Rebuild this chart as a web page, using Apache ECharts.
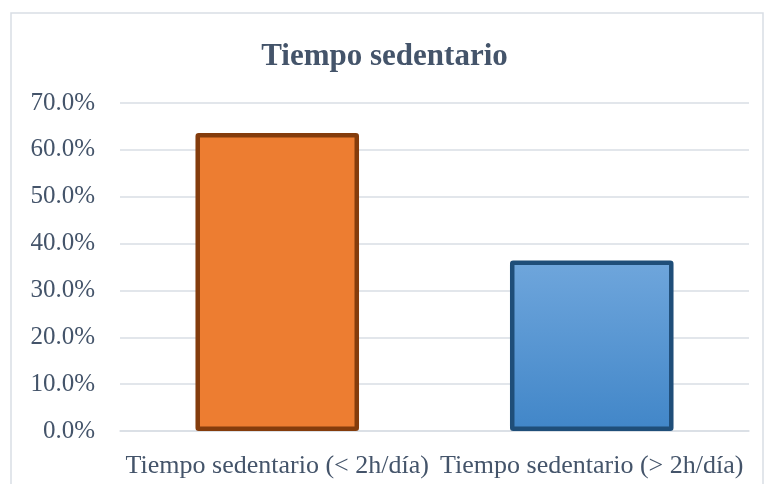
<!DOCTYPE html>
<html>
<head>
<meta charset="utf-8">
<script src="https://cdn.jsdelivr.net/npm/echarts@6/dist/echarts.min.js"></script>
<style>
  html, body { margin: 0; padding: 0; background: #fff; }
  #chart { width: 769px; height: 484px; }
</style>
</head>
<body>
<div id="chart"></div>
<script>
// Share of time spent sedentary, by daily duration group
const categories = ['Tiempo sedentario (< 2h/día)', 'Tiempo sedentario (> 2h/día)'];
const shares = [63.6, 36.4];
const tickStep = 10;
const tickMax = 70;

const fills = [
  '#ED7D31',
  new echarts.graphic.LinearGradient(0, 0, 0, 1, [
    { offset: 0, color: '#6FA6DC' },
    { offset: 1, color: '#4186C8' }
  ])
];
const borders = ['#843C0C', '#1F4E79'];

const chart = echarts.init(document.getElementById('chart'), null, { renderer: 'canvas' });
const textColor = '#44546A';
const font = '"Liberation Serif", "Times New Roman", serif';

chart.setOption({
  animation: false,
  backgroundColor: '#fff',
  title: {
    text: 'Tiempo sedentario',
    left: 'center',
    top: 36,
    textStyle: { fontFamily: font, fontSize: 31, fontWeight: 'bold', color: textColor }
  },
  graphic: [{
    type: 'rect',
    shape: { x: 11, y: 13, width: 752, height: 480 },
    style: { fill: 'none', stroke: '#D9DEE5', lineWidth: 1.5 },
    silent: true
  }],
  grid: { left: 120, right: 20, top: 103, bottom: 53 },
  xAxis: {
    type: 'category',
    data: categories,
    axisTick: { show: false },
    axisLine: { show: true, lineStyle: { color: '#D9DEE5', width: 1.5 } },
    axisLabel: { interval: 0, margin: 22, fontFamily: font, fontSize: 26, color: textColor }
  },
  yAxis: {
    type: 'value',
    min: 0,
    max: tickMax,
    interval: tickStep,
    axisLine: { show: false },
    axisTick: { show: false },
    splitLine: { lineStyle: { color: '#D9DEE5', width: 1.5 } },
    axisLabel: {
      margin: 25,
      fontFamily: font,
      fontSize: 25,
      color: textColor,
      formatter: v => v.toFixed(1) + '%'
    }
  },
  series: [{
    type: 'bar',
    barWidth: '52%',
    data: shares.map((v, i) => ({
      value: v,
      itemStyle: { color: fills[i], borderColor: borders[i], borderWidth: 4.5, borderRadius: 1 }
    }))
  }]
});
</script>
</body>
</html>
